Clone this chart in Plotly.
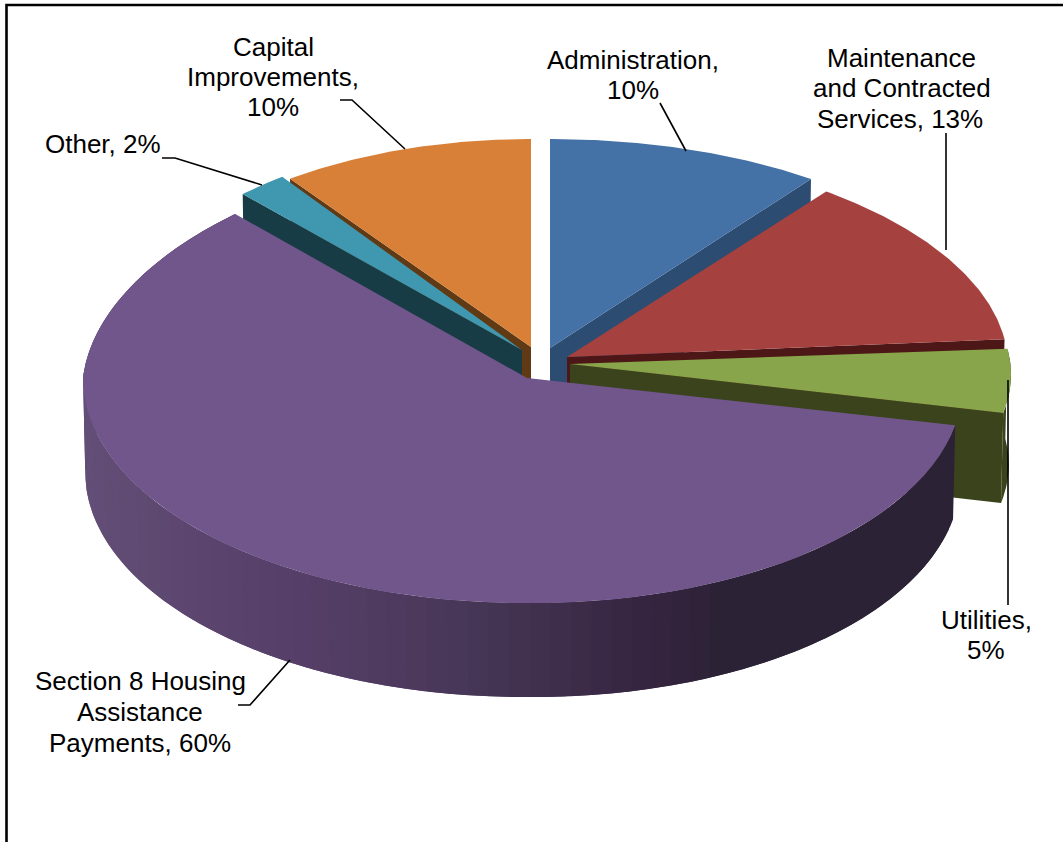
import math
import plotly.graph_objects as go

# Budget shares, clockwise from twelve o'clock
categories = ["Administration", "Maintenance and Contracted Services", "Utilities",
              "Section 8 Housing Assistance Payments", "Other", "Capital Improvements"]
shares = [10, 13, 5, 60, 2, 10]
top_colors = ["#4471a6", "#a5413f", "#88a54b", "#71568c", "#3f97b0", "#d98038"]
wall_colors = ["#2c4c72", "#4d1717", "#3a431b", "#2c2236", "#183c46", "#5f3a14"]

# Projection of each exploded wedge on the page: apex, ellipse centre x, radii, extrusion depth
WEDGES = {
    "Administration": dict(vx=550, vy=348, cx=550, a=444, b=209, depth=92, tilt=0, taper=0),
    "Maintenance and Contracted Services": dict(vx=567, vy=357, cx=567, a=441, b=211, depth=92, tilt=0.02, taper=0),
    "Utilities": dict(vx=570, vy=364, cx=570, a=441, b=206, depth=90, tilt=0.024, taper=0),
    "Section 8 Housing Assistance Payments": dict(vx=527, vy=378, cx=523, a=440, b=225, depth=94, tilt=0.012, taper=0.061),
    "Other": dict(vx=522, vy=350, cx=522, a=408, b=214, depth=92, tilt=0, taper=0),
    "Capital Improvements": dict(vx=531, vy=347, cx=531, a=410, b=208, depth=92, tilt=0, taper=0),
}
LOWER_RIM_SCALE = 0.995

# Rim shading of the large wedge, lighter on the left: (page x, colour)
RIM_STOPS = [(85, (98, 78, 118)), (310, (85, 62, 103)), (482, (70, 54, 85)),
             (654, (53, 36, 63)), (720, (43, 34, 54)), (960, (44, 34, 54))]

# Text of each label, one entry per line, with its centre on the page
LABELS = [
    ("Capital", 273, 47), ("Improvements,", 273, 77), (f"{shares[5]}%", 273, 107),
    ("Administration,", 633, 60), (f"{shares[0]}%", 633, 90),
    ("Maintenance", 901, 58), ("and Contracted", 902, 88), (f"Services, {shares[1]}%", 900, 119),
    (f"Other, {shares[4]}%", 103, 144),
    ("Utilities,", 986, 620), (f"{shares[2]}%", 986, 650),
    ("Section 8 Housing", 140, 681), ("Assistance", 140, 712), (f"Payments, {shares[3]}%", 140, 743),
]
LEADERS = [
    ([660, 686], [103, 151]),
    ([946, 946], [133, 250]),
    ([1008, 1008], [380, 605]),
    ([238, 250, 290], [705, 705, 660]),
    ([162, 175, 262], [158, 158, 185]),
    ([340, 352, 405], [100, 100, 149]),
]


def rim_point(g, t, lower=False):
    """Page position of the wedge rim at clockwise angle t (radians)."""
    scale = LOWER_RIM_SCALE if lower else 1.0
    cos_t = math.cos(t)
    dx = g["a"] * scale * math.sin(t) * (1 - g["taper"] * max(cos_t, 0))
    y = g["vy"] - g["b"] * cos_t + g["tilt"] * max(dx, 0)
    if lower:
        y += g["depth"]
    return g["cx"] + dx, y


def arc(g, t0, t1, lower=False, steps=80):
    pts = [rim_point(g, t0 + (t1 - t0) * i / steps, lower) for i in range(steps + 1)]
    return [p[0] for p in pts], [p[1] for p in pts]


def poly(fig, xs, ys, color):
    fig.add_trace(go.Scatter(x=xs, y=ys, mode="lines", fill="toself", fillcolor=color,
                             line=dict(color=color, width=0), hoverinfo="skip",
                             showlegend=False))


def top_face(fig, g, t0, t1, color):
    xs, ys = arc(g, t0, t1)
    poly(fig, [g["vx"]] + xs + [g["vx"]], [g["vy"]] + ys + [g["vy"]], color)


def cut_face(fig, g, t, color):
    x0, y0 = rim_point(g, t)
    x1, y1 = rim_point(g, t, lower=True)
    vx, vy = g["vx"], g["vy"]
    poly(fig, [vx, x0, x1, vx, vx], [vy, y0, y1, vy + g["depth"], vy], color)


def outer_wall(fig, g, t0, t1, color):
    xu, yu = arc(g, t0, t1, steps=12)
    xl, yl = arc(g, t0, t1, lower=True, steps=12)
    poly(fig, xu + xl[::-1] + xu[:1], yu + yl[::-1] + yu[:1], color)


def rim_color(x):
    for (x0, c0), (x1, c1) in zip(RIM_STOPS, RIM_STOPS[1:]):
        if x <= x1:
            f = max(0.0, (x - x0) / (x1 - x0))
            return "rgb(%d,%d,%d)" % tuple(round(p + (q - p) * f) for p, q in zip(c0, c1))
    return "rgb(%d,%d,%d)" % RIM_STOPS[-1][1]


# Angular span of every slice
spans = {}
running = 0.0
for name, share in zip(categories, shares):
    start = running
    running += share / sum(shares) * 2 * math.pi
    spans[name] = (start, running)

fig = go.Figure()
idx = {name: i for i, name in enumerate(categories)}


def parts(name):
    return WEDGES[name], spans[name], top_colors[idx[name]], wall_colors[idx[name]]


# Painted back to front so nearer wedges hide the ones behind them
g, (t0, t1), top, wall = parts("Capital Improvements")
cut_face(fig, g, t0, wall)
top_face(fig, g, t0, t1, top)

g, (t0, t1), top, wall = parts("Other")
cut_face(fig, g, t0, wall)
top_face(fig, g, t0, t1, top)

g, (t0, t1), top, wall = parts("Administration")
cut_face(fig, g, t1, wall)
top_face(fig, g, t0, t1, top)

g, (t0, t1), top, wall = parts("Maintenance and Contracted Services")
cut_face(fig, g, t1, wall)
top_face(fig, g, t0, t1, top)

g, (t0, t1), top, wall = parts("Utilities")
outer_wall(fig, g, t0, t1, wall)
cut_face(fig, g, t1, wall)
top_face(fig, g, t0, t1, top)

# The large wedge's rim is banded; each band overruns into the next so no seams show
g, (t0, t1), top, wall = parts("Section 8 Housing Assistance Payments")
band_count = 80
band_step = (t1 - t0) / band_count
for i in range(band_count):
    a0 = t0 + band_step * i
    a1 = min(t1, a0 + band_step * 2)
    outer_wall(fig, g, a0, a1, rim_color(rim_point(g, a0 + band_step / 2)[0]))
top_face(fig, g, t0, t1, top)

# Leader lines from labels to their wedges
for xs, ys in LEADERS:
    fig.add_trace(go.Scatter(x=xs, y=ys, mode="lines", line=dict(color="#000000", width=1.6),
                             hoverinfo="skip", showlegend=False))

# Frame along the top and left edges
fig.add_trace(go.Scatter(x=[6.5, 6.5, 1063], y=[842, 5, 5], mode="lines",
                         line=dict(color="#000000", width=2.6), hoverinfo="skip", showlegend=False))

for text, x, y in LABELS:
    fig.add_annotation(x=x, y=y, text=text, showarrow=False, xanchor="center", yanchor="middle",
                       font=dict(family="Liberation Sans, Arial, sans-serif", size=26, color="#000000"))

fig.update_layout(
    width=1063, height=842, autosize=False,
    margin=dict(l=0, r=0, t=0, b=0),
    paper_bgcolor="#ffffff", plot_bgcolor="#ffffff", showlegend=False,
    xaxis=dict(range=[0, 1063], visible=False, fixedrange=True),
    yaxis=dict(range=[842, 0], visible=False, fixedrange=True),
)
fig.write_html("out.html", config=dict(displayModeBar=False))
